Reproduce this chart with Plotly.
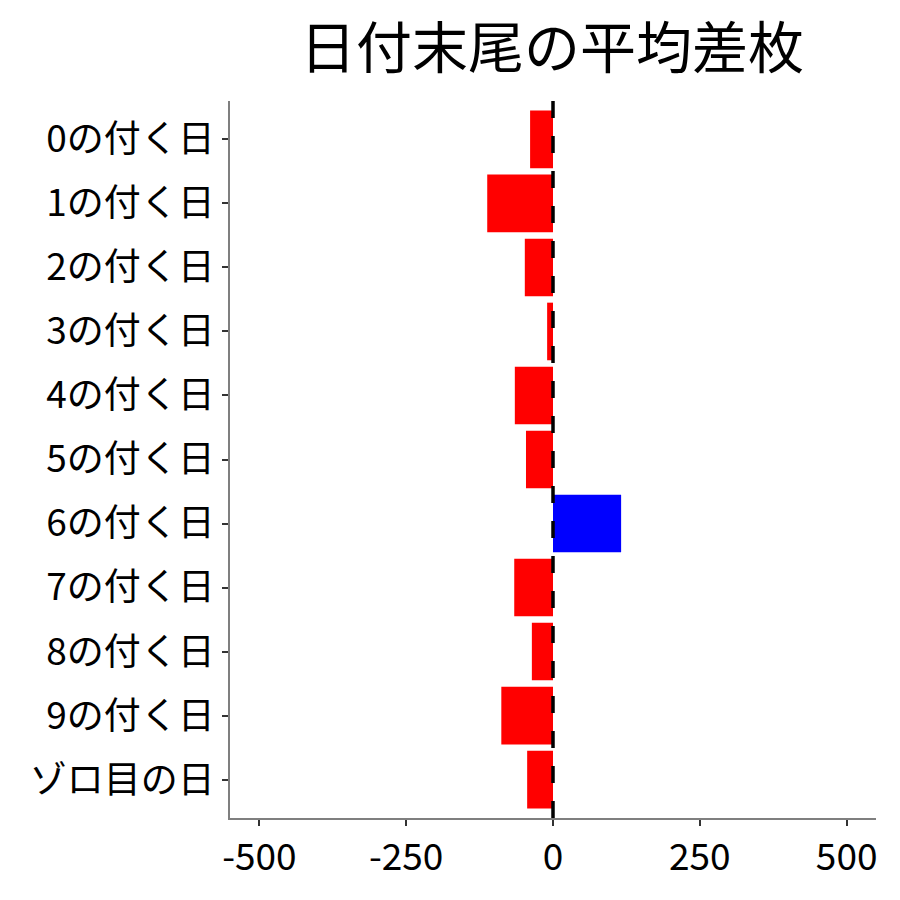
import plotly.graph_objects as go

# 日付末尾ごとの平均差枚
labels = [
    "0の付く日", "1の付く日", "2の付く日", "3の付く日", "4の付く日",
    "5の付く日", "6の付く日", "7の付く日", "8の付く日", "9の付く日",
    "ゾロ目の日",
]
avg_diff = [-39, -112, -48, -10, -65, -46, 116, -66, -36, -88, -44]
x_ticks = [-500, -250, 0, 250, 500]

FONT = "Noto Sans CJK JP"

bar_colors = ["#0000FF" if v > 0 else "#FF0000" for v in avg_diff]

fig = go.Figure()
fig.add_trace(
    go.Bar(
        x=avg_diff,
        y=labels,
        orientation="h",
        marker=dict(color=bar_colors, line=dict(width=0)),
        width=0.9,
        showlegend=False,
    )
)

# ゼロの破線
fig.add_shape(
    type="line",
    x0=0, x1=0, xref="x",
    y0=0, y1=1, yref="paper",
    line=dict(color="black", width=3.5, dash="17px,18px"),
    layer="above",
)

fig.update_xaxes(
    range=[-550, 550],
    tickvals=x_ticks,
    ticktext=[str(v) for v in x_ticks],
    showgrid=False,
    zeroline=False,
    showline=True,
    linecolor="#7f7f7f",
    linewidth=1.5,
    ticks="outside",
    ticklen=6,
    tickwidth=2,
    tickcolor="#333333",
    tickfont=dict(size=37, color="black", family=FONT),
)
fig.update_yaxes(
    categoryorder="array",
    categoryarray=labels,
    autorange=False,
    range=[10.6, -0.6],
    showgrid=False,
    zeroline=False,
    showline=True,
    linecolor="#7f7f7f",
    linewidth=1.5,
    ticks="outside",
    ticklen=6,
    tickwidth=2,
    tickcolor="#333333",
    tickfont=dict(size=37, color="black", family=FONT),
)

fig.update_layout(
    width=900,
    height=900,
    title=dict(
        text="日付末尾の平均差枚",
        font=dict(size=56, color="black", family=FONT),
        x=0.6044,
        xanchor="center",
        y=0.9556,
        yanchor="middle",
    ),
    margin=dict(l=222, r=32, t=93, b=90),
    plot_bgcolor="white",
    paper_bgcolor="white",
    font=dict(family=FONT, color="black"),
    bargap=0.1,
)

fig.write_html("out.html")
